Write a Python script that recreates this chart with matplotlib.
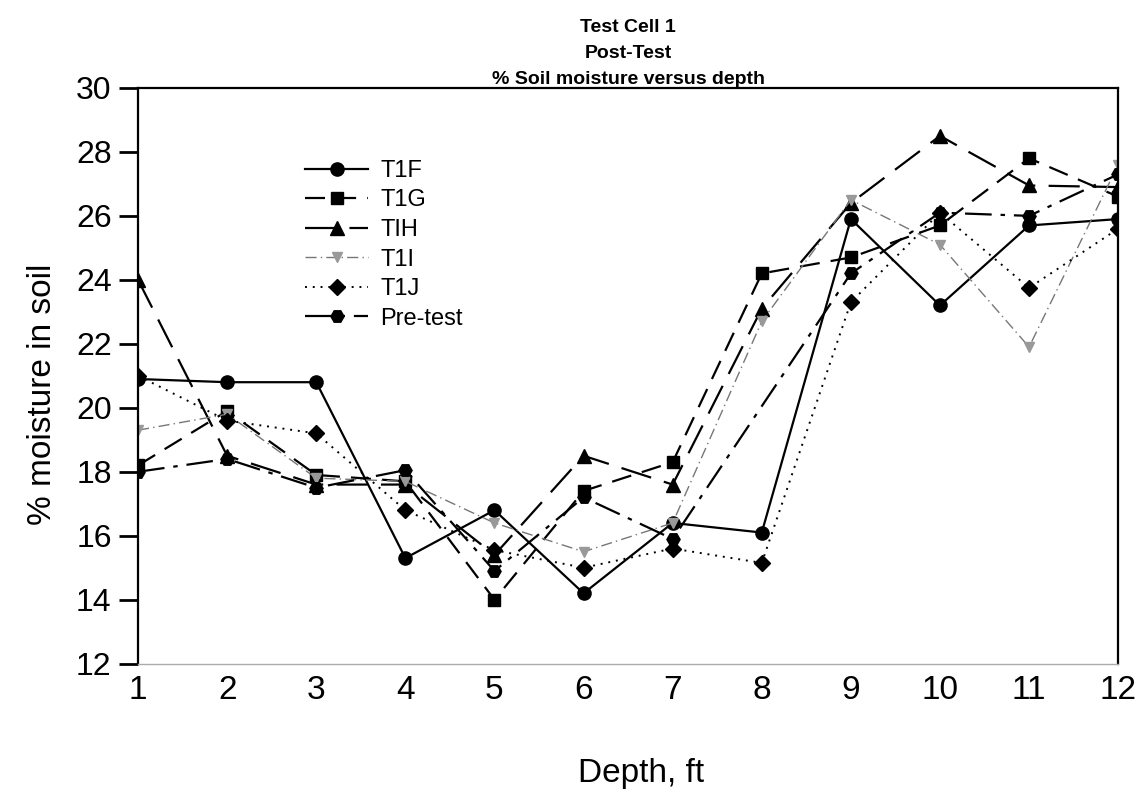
import matplotlib.pyplot as plt
import numpy as np

plt.rcParams['font.family'] = ['Liberation Sans', 'DejaVu Sans']

depth = [1, 2, 3, 4, 5, 6, 7, 8, 9, 10, 11, 12]

t1f = [20.9, 20.8, 20.8, 15.3, 16.8, 14.2, 16.4, 16.1, 25.9, 23.2, 25.7, 25.9]
t1g = [18.2, 19.9, 17.9, 17.7, 14.0, 17.4, 18.3, 24.2, 24.7, 25.7, 27.8, 26.6]
t1h = [24.0, 18.5, 17.6, 17.6, 15.4, 18.5, 17.6, 23.1, 26.4, 28.5, 26.95, 26.9]
t1i = [19.3, 19.8, 17.8, 17.7, 16.4, 15.5, 16.4, 22.7, 26.5, 25.1, 21.9, 27.6]
t1j = [21.0, 19.6, 19.2, 16.8, 15.55, 15.0, 15.6, 15.15, 23.3, 26.1, 23.75, 25.6]
pretest = [18.0, 18.4, 17.5, 18.05, 14.9, 17.2, 15.9, np.nan, 24.2, 26.1, 26.0, 27.3]

fig = plt.figure(figsize=(11.41, 7.92), dpi=100)
ax = fig.add_axes([0.121, 0.162, 0.859, 0.727])

ms = 9.5
ax.plot(depth, t1f, color='black', lw=1.6, ls='-', marker='o', ms=ms, label='T1F')
ax.plot(depth, t1g, color='black', lw=1.6, ls=(0, (9, 5)), marker='s', ms=ms - 1, label='T1G')
ax.plot(depth, t1h, color='black', lw=1.6, ls=(0, (14, 6)), marker='^', ms=ms, label='TIH')
ax.plot(depth, t1i, color='#777777', lw=1.0, ls=(0, (8, 3, 1, 3)), marker='v', ms=ms - 2,
        markerfacecolor='#999999', markeredgecolor='#999999', label='T1I')
ax.plot(depth, t1j, color='black', lw=1.4, ls=(0, (1, 3)), marker='D', ms=ms - 1, label='T1J')
# pre-test has no reading at 8 ft, the line runs straight from 7 to 9
mask = ~np.isnan(pretest)
ax.plot(np.array(depth)[mask], np.array(pretest)[mask], color='black', lw=1.6,
        ls=(0, (12, 4, 2, 4)), marker='H', ms=ms, label='Pre-test')

ax.set_xlim(1, 12)
ax.set_ylim(12, 30)
ax.set_xticks(depth)
ax.set_yticks(np.arange(12, 31, 2))
ax.tick_params(axis='y', direction='out', length=14, width=2, labelsize=23, pad=5)
ax.tick_params(axis='x', length=0, labelsize=24, pad=8)

for s in ['left', 'top', 'right']:
    ax.spines[s].set_linewidth(1.6)
ax.spines['bottom'].set_color('#aaaaaa')
ax.spines['bottom'].set_linewidth(1.0)

ax.set_xlabel('Depth, ft', fontsize=24)
ax.xaxis.set_label_coords(0.513, -0.163)
ax.set_ylabel('% moisture in soil', fontsize=24)
ax.yaxis.set_label_coords(-0.082, 0.467)
ax.set_title('Test Cell 1\nPost-Test\n% Soil moisture versus depth',
             fontsize=14, fontweight='bold', linespacing=1.7, pad=3)

ax.legend(loc='upper left', bbox_to_anchor=(0.17, 0.875), frameon=False, fontsize=17,
          handlelength=2.7, handletextpad=0.5, labelspacing=0.32,
          borderpad=0, borderaxespad=0)

fig.savefig('out.png', dpi=100)
